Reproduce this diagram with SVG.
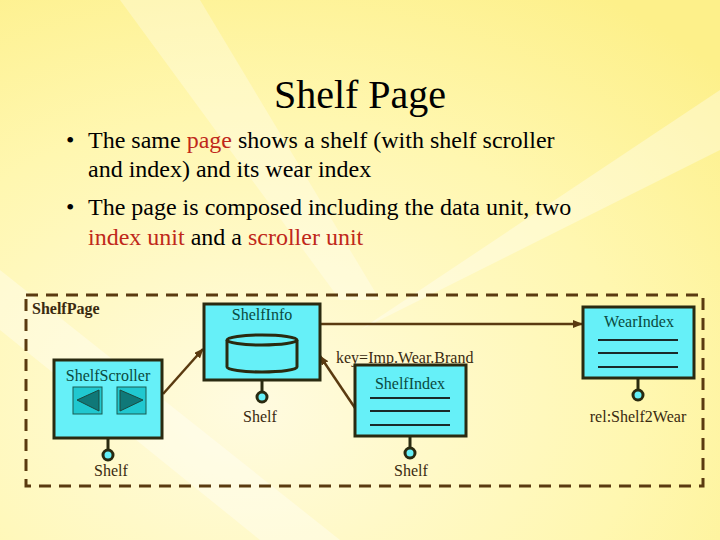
<svg xmlns="http://www.w3.org/2000/svg" width="720" height="540" viewBox="0 0 720 540">
<defs>
<radialGradient id="bg" cx="0.35" cy="0.75" r="0.9">
<stop offset="0" stop-color="#fffbe0"/><stop offset="0.6" stop-color="#fff7b0"/><stop offset="1" stop-color="#fdf08a"/>
</radialGradient>
<marker id="ar" markerWidth="10" markerHeight="8" refX="9" refY="4" orient="auto" markerUnits="userSpaceOnUse"><path d="M0,0 L10,4 L0,8 z" fill="#5a3a10"/></marker>
<style>
text{font-family:"Liberation Serif","Times New Roman","DejaVu Serif",serif}
.t{fill:#000}
.s{font-size:16px;fill:#3a2a10}
.n{font-size:16px;fill:#0a4a40}
.box{fill:#66f0f8;stroke:#2a2a10;stroke-width:3}
.ln{stroke:#1a2a2a;stroke-width:2}
.lp{stroke:#2a2a10;stroke-width:3;fill:#66f0f8}
.c{stroke:#5a3a10;stroke-width:2.5;fill:none}
</style>
</defs>
<rect width="720" height="540" fill="url(#bg)"/>
<path d="M0,330 L260,540 L340,540 L0,270 z" fill="#ffffff" opacity="0.35"/>
<path d="M120,0 L340,300 L380,300 L200,0 z" fill="#ffffff" opacity="0.3"/>
<path d="M720,90 L360,330 L720,150 z" fill="#ffffff" opacity="0.35"/>
<text class="t" x="360" y="108" font-size="40" text-anchor="middle">Shelf Page</text>
<g class="t" font-size="24">
<text x="66" y="148">•</text>
<text x="88" y="148">The same <tspan fill="#c0281a">page</tspan> shows a shelf (with shelf scroller</text>
<text x="88" y="177">and index) and its wear index</text>
<text x="66" y="215">•</text>
<text x="88" y="215">The page is composed including the data unit, two</text>
<text x="88" y="245"><tspan fill="#c0281a">index unit</tspan> and a <tspan fill="#c0281a">scroller unit</tspan></text>
</g>
<g id="page">
<rect x="26" y="295" width="677" height="191" fill="none" stroke="#5a3a10" stroke-width="3" stroke-dasharray="12,8"/>
<text x="32" y="314" font-size="16" font-weight="bold" fill="#3a2a10">ShelfPage</text>
</g>
<g id="connectors">
<line class="c" x1="320" y1="324" x2="582" y2="324" marker-end="url(#ar)" stroke-width="2"/>
<line class="c" x1="163" y1="394" x2="203" y2="349" marker-end="url(#ar)"/>
<line class="c" x1="355" y1="408" x2="320" y2="356" marker-end="url(#ar)"/>
<text class="s" x="336" y="363">key=Imp.Wear.Brand</text>
</g>
<g id="ShelfInfo">
<rect class="box" x="204" y="304" width="116" height="76"/>
<text class="n" x="262" y="320" text-anchor="middle">ShelfInfo</text>
<path d="M227,340 L227,367 A35,5 0 0 0 297,367 L297,340" class="lp" stroke-width="2"/>
<ellipse cx="262" cy="340" rx="35" ry="5" class="lp" stroke-width="2"/>
<line x1="262" y1="380" x2="262" y2="392" class="lp"/>
<circle cx="262" cy="397" r="5" class="lp"/>
<text class="s" x="260" y="422" text-anchor="middle">Shelf</text>
</g>
<g id="ShelfScroller">
<rect class="box" x="54" y="360" width="108" height="78"/>
<text class="n" x="108" y="381" text-anchor="middle">ShelfScroller</text>
<rect x="73" y="387" width="29" height="27" fill="#20c8d0" stroke="#1a5a50"/>
<path d="M99,390 L77,400 L99,411 z" fill="#107878" stroke="#1a4a40"/>
<rect x="117" y="387" width="29" height="27" fill="#20c8d0" stroke="#1a5a50"/>
<path d="M120,390 L143,400 L120,411 z" fill="#107878" stroke="#1a4a40"/>
<line x1="108" y1="438" x2="108" y2="450" class="lp"/>
<circle cx="108" cy="455" r="5" class="lp"/>
<text class="s" x="111" y="476" text-anchor="middle">Shelf</text>
</g>
<g id="ShelfIndex">
<rect class="box" x="355" y="365" width="111" height="71"/>
<text class="n" x="410" y="389" text-anchor="middle">ShelfIndex</text>
<line class="ln" x1="370" y1="398" x2="450" y2="398" stroke-width="2.5"/>
<line class="ln" x1="370" y1="411" x2="450" y2="411"/>
<line class="ln" x1="370" y1="425" x2="450" y2="425"/>
<line x1="410" y1="436" x2="410" y2="448" class="lp"/>
<circle cx="410" cy="453" r="5" class="lp"/>
<text class="s" x="411" y="476" text-anchor="middle">Shelf</text>
</g>
<g id="WearIndex">
<rect class="box" x="583" y="307" width="111" height="71"/>
<text class="n" x="639" y="327" text-anchor="middle">WearIndex</text>
<line class="ln" x1="598" y1="340" x2="678" y2="340" stroke-width="2.5"/>
<line class="ln" x1="598" y1="353" x2="678" y2="353"/>
<line class="ln" x1="598" y1="367" x2="678" y2="367"/>
<line x1="638" y1="378" x2="638" y2="390" class="lp"/>
<circle cx="638" cy="395" r="5" class="lp"/>
<text class="s" x="638" y="422" text-anchor="middle">rel:Shelf2Wear</text>
</g>
</svg>
